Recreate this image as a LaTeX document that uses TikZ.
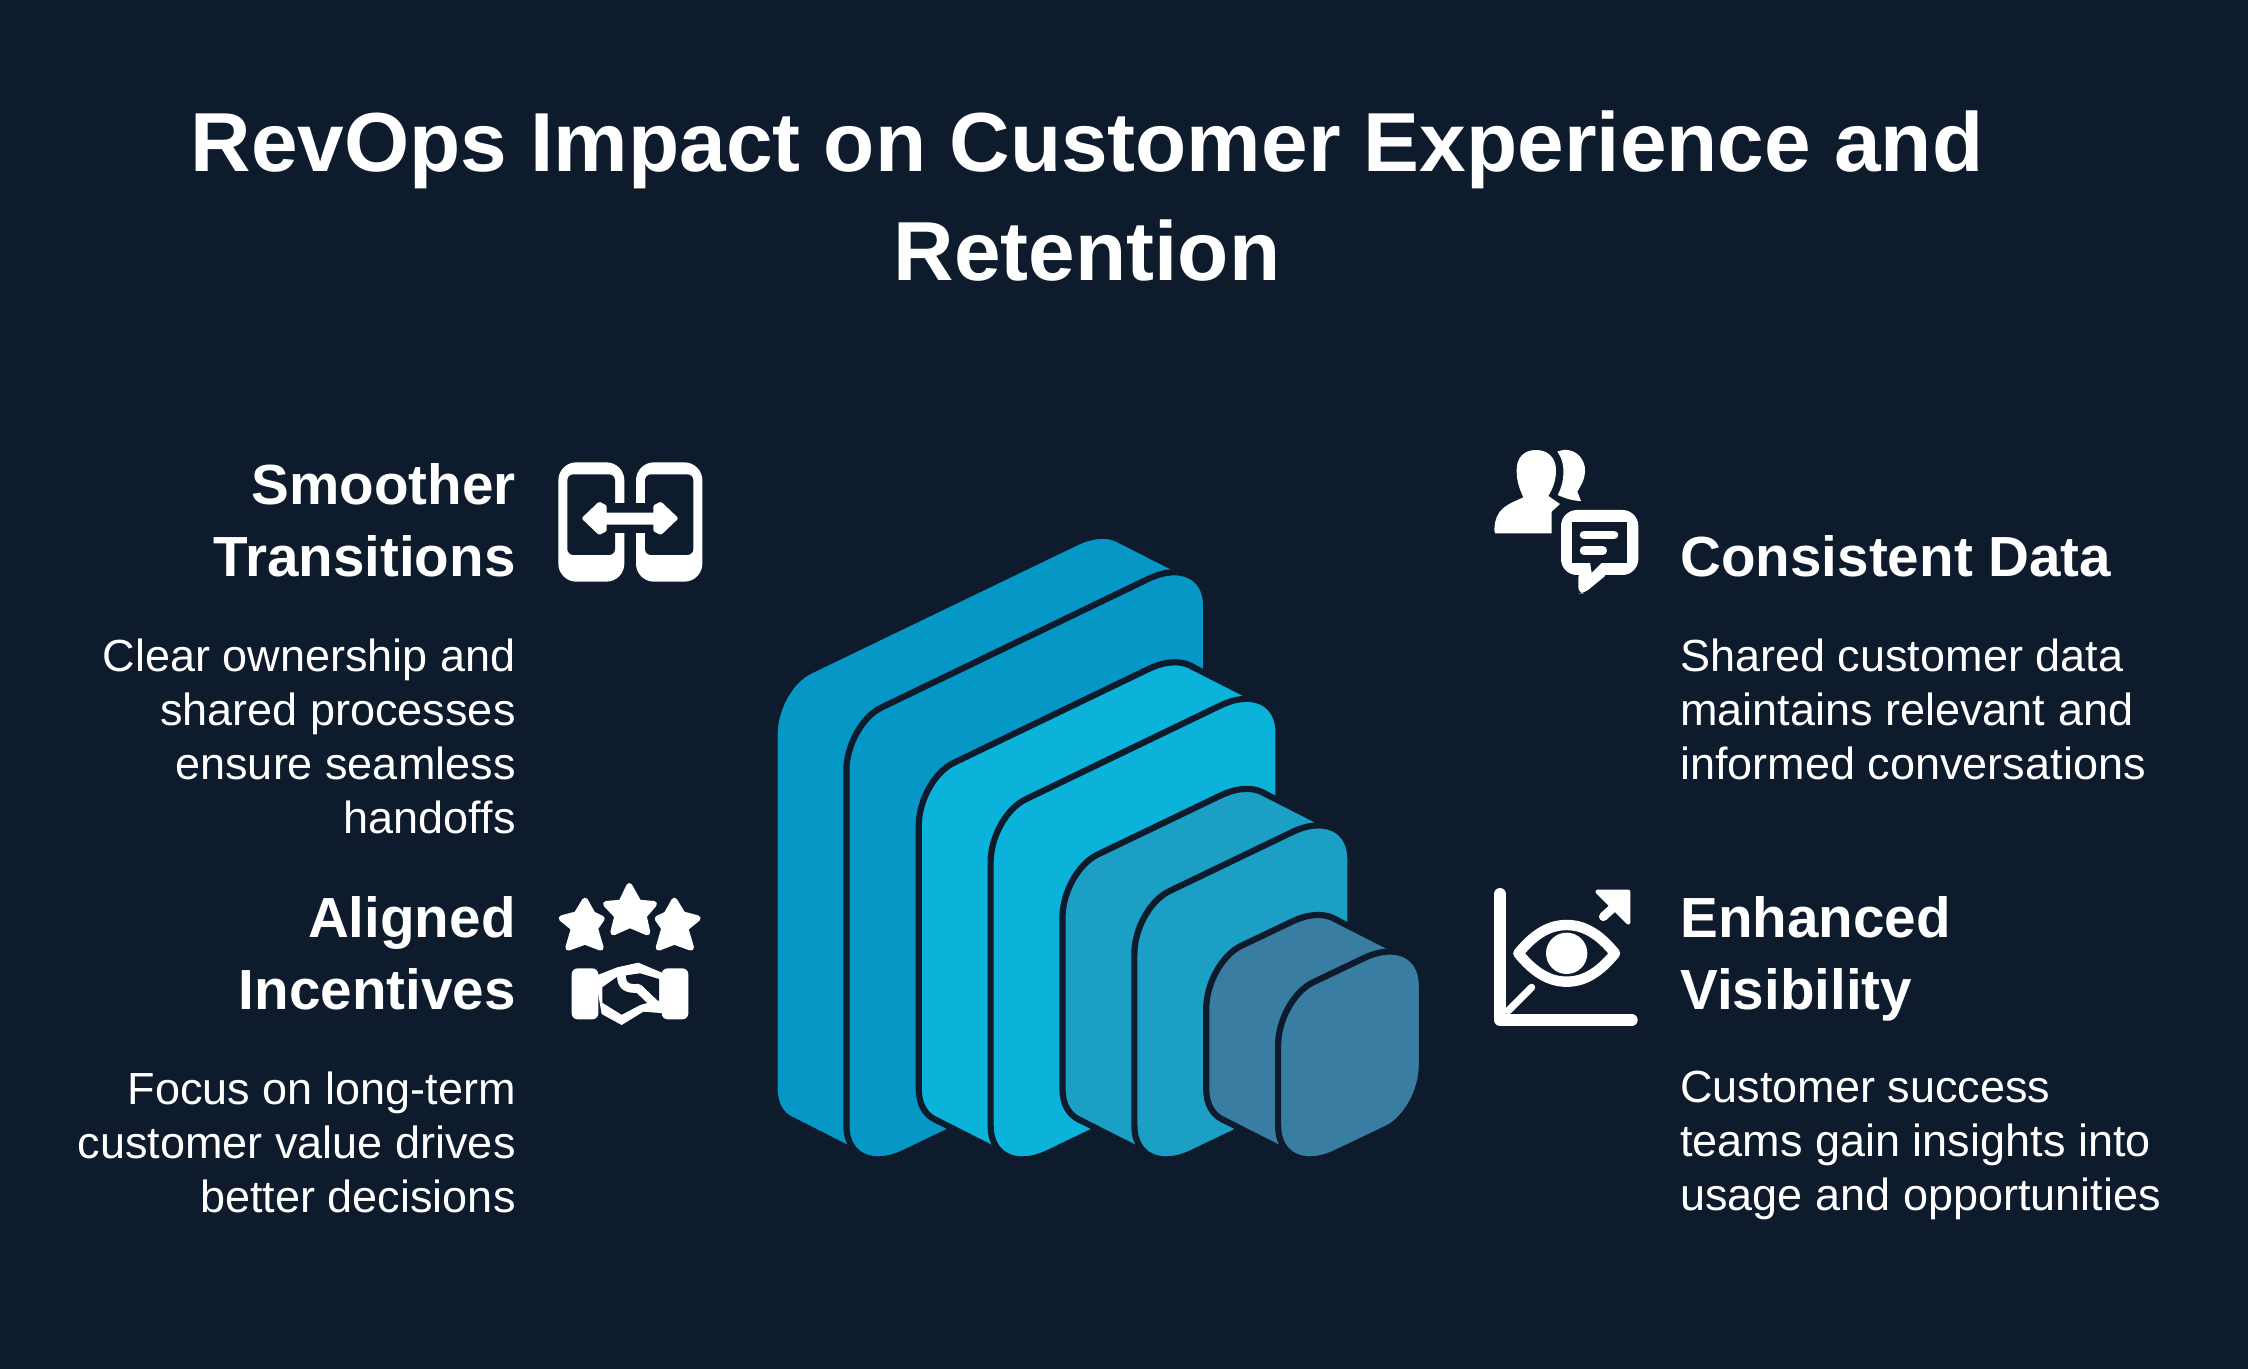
\documentclass[tikz,border=0pt]{standalone}
\usepackage{fontspec}
\setmainfont{Liberation Sans}
\usetikzlibrary{positioning}

\definecolor{pagebg}{HTML}{0E1B2C}
\definecolor{slabone}{HTML}{0598C6}
\definecolor{slabtwo}{HTML}{0BB3DA}
\definecolor{slabthree}{HTML}{1C9FC4}
\definecolor{slabfour}{HTML}{397DA3}

% one rounded face, sharp corners at (\slabL,\slabTL) (\slabR,\slabT) (\slabR,\slabBR) (\slabL,1593)
\newcommand{\slabface}{%
    (\slabL,\slabTL+110) .. controls (\slabL,\slabTL+49.5) and (\slabL+35,\slabTL-18.5) .. (\slabL+78,\slabTL-41)
    -- (\slabR-130,\slabT+68) .. controls (\slabR-58,\slabT+31) and (\slabR,\slabT+60) .. (\slabR,\slabT+133)
    -- (\slabR,\slabBR-110) .. controls (\slabR,\slabBR-49.5) and (\slabR-35,\slabBR+18.5) .. (\slabR-78,\slabBR+41)
    -- (\slabL+130,1525) .. controls (\slabL+58,1562) and (\slabL,1533) .. (\slabL,1460) -- cycle
}

\newcommand{\slabblock}[4]{%
    \def\slabL{#1}\def\slabR{#2}\def\slabT{#3}
    \pgfmathsetmacro\slabTL{#3+.52*(#2-#1)}
    \pgfmathsetmacro\slabBR{1593-.52*(#2-#1)}
    \draw[slabedge,fill=#4,shift={(-161,-88)}] \slabface;
    \fill[#4] (#2-196.9,#3-27.4) -- (#2-35.9,#3+60.6) -- (#1+35.9,1532.4) -- (#1-125.1,1444.4) -- cycle;
    \draw[slabedge] (#2-196.9,#3-27.4) -- (#2-35.9,#3+60.6);
    \draw[slabedge] (#1-125.1,1444.4) -- (#1+35.9,1532.4);
    \draw[slabedge,fill=#4] \slabface;
}

\begin{document}
\begin{tikzpicture}[
    x=.5pt,y=-.5pt,
    titletext/.style={text=white,align=center,font=\fontsize{41.9}{54.5}\selectfont\bfseries,inner sep=0pt},
    headleft/.style={text=white,align=right,font=\fontsize{28.3}{36}\selectfont\bfseries,inner sep=0pt},
    headright/.style={text=white,align=left,font=\fontsize{28.3}{36}\selectfont\bfseries,inner sep=0pt},
    bodyleft/.style={text=white,align=right,font=\fontsize{22.5}{27}\selectfont,inner sep=0pt},
    bodyright/.style={text=white,align=left,font=\fontsize{22.5}{27}\selectfont,inner sep=0pt},
    slabedge/.style={draw=pagebg,line width=3.1pt,line join=round},
    iconfill/.style={fill=white,draw=white,line join=round},
    iconline/.style={draw=white,line cap=round,line join=round}
    ]

    \fill[pagebg] (0,0) rectangle (2248,1369);
    \useasboundingbox (0,0) rectangle (2248,1369);

    \node[titletext,anchor=base] (title) at (1087,281) {RevOps Impact on Customer Experience and\\Retention};

    \node[headleft,anchor=base east] (smoother) at (516,576) {Smoother\\Transitions};
    \node[bodyleft,below=31pt of smoother.base east,anchor=north east] (smootherbody) {Clear ownership and\\shared processes\\ensure seamless\\handoffs};
    \node[headleft,anchor=base east] (aligned) at (516,1009) {Aligned\\Incentives};
    \node[bodyleft,below=31pt of aligned.base east,anchor=north east] (alignedbody) {Focus on long-term\\customer value drives\\better decisions};

    \node[headright,anchor=base west] (consistent) at (1680,576) {Consistent Data};
    \node[bodyright,below=31pt of consistent.base west,anchor=north west] (consistentbody) {Shared customer data\\maintains relevant and\\informed conversations};
    \node[headright,anchor=base west] (enhanced) at (1680,1009) {Enhanced\\Visibility};
    \node[bodyright,below=31pt of enhanced.base west,anchor=north west] (enhancedbody) {Customer success\\teams gain insights into\\usage and opportunities};

    \begin{scope}[shift={(750,520)},xscale=1/2.24,yscale=1/2.41]
        \slabblock{216}{1022}{74}{slabone}
        \slabblock{539}{1184}{379}{slabtwo}
        \slabblock{861}{1345}{684}{slabthree}
        \slabblock{1183}{1505}{988}{slabfour}
    \end{scope}

    % phones
    \begin{scope}[shift={(540,440)},scale=1/3]
        \fill[white,rounded corners=9pt] (55,67) rectangle (253,425);
        \fill[white,rounded corners=9pt] (288,67) rectangle (487,425);
        \fill[pagebg,rounded corners=3pt] (82,103) rectangle (225,345);
        \fill[pagebg,rounded corners=3pt] (315,103) rectangle (460,345);
        \fill[pagebg] (220,190) rectangle (320,280);
        \draw[iconfill,line width=2pt] (133,235) -- (178,192) -- (194,200) -- (194,224) -- (346,224) -- (346,200) -- (362,192) -- (407,235) -- (362,278) -- (346,270) -- (346,248) -- (194,248) -- (194,270) -- (178,278) -- cycle;
    \end{scope}

    % stars and handshake
    \begin{scope}[shift={(540,870)},scale=1/3]
        \draw[iconfill,line width=3pt] (135,92) -- (158,133) -- (185,146) -- (165,175) -- (182,233) -- (135,215) -- (85,233) -- (102,175) -- (65,145) -- (110,133) -- cycle;
        \draw[iconfill,line width=3pt] (268,48) -- (296,98) -- (342,102) -- (311,138) -- (322,187) -- (270,165) -- (220,187) -- (232,138) -- (198,102) -- (244,98) -- cycle;
        \draw[iconfill,line width=3pt] (403,92) -- (428,133) -- (473,145) -- (436,175) -- (453,233) -- (403,215) -- (356,233) -- (373,175) -- (353,146) -- (380,133) -- cycle;
        \fill[white,rounded corners=3pt] (95,295) rectangle (175,448);
        \fill[white,rounded corners=3pt] (365,295) rectangle (445,448);
        \fill[white] (165,318) -- (232,292) -- (295,278) -- (375,312) -- (375,430) -- (310,425) -- (245,465) -- (185,432) -- cycle;
        \fill[pagebg] (187,352) -- (232,320) -- (300,310) -- (357,327) -- (357,392) -- (345,392) -- (300,405) -- (245,434) -- (187,398) -- cycle;
        \draw[iconline,line width=4.4pt] (244,316) .. controls (245,350) and (262,357) .. (295,355) -- (342,400);
    \end{scope}

    % people and chat bubble
    \begin{scope}[shift={(1480,440)},scale=1/3]
        \fill[white] (45,280) -- (215,280) -- (215,215) -- (240,192) -- (205,168) .. controls (222,140) and (228,115) .. (228,90) .. controls (228,55) and (205,30) .. (168,30) .. controls (130,30) and (108,55) .. (110,95) .. controls (110,125) and (120,150) .. (130,172) .. controls (80,195) and (45,205) .. (43,270) -- cycle;
        \fill[white] (232,35) .. controls (280,15) and (318,55) .. (315,95) .. controls (313,125) and (300,140) .. (292,155) -- (303,183) .. controls (280,183) and (255,175) .. (233,165) .. controls (250,135) and (262,75) .. (232,35) -- cycle;
        \fill[white,rounded corners=8pt] (243,210) rectangle (475,405);
        \fill[white,rounded corners=3pt] (295,395) -- (295,460) -- (312,460) -- (385,400) -- cycle;
        \fill[pagebg] (277,245) rectangle (440,370);
        \fill[pagebg] (330,365) -- (335,398) -- (368,365) -- cycle;
        \draw[iconline,line width=4.3pt] (312,285) -- (402,285);
        \draw[iconline,line width=4.3pt] (312,332) -- (368,332);
    \end{scope}

    % eye on a chart
    \begin{scope}[shift={(1480,870)},scale=1/3]
        \draw[iconline,line width=6pt] (60,72) -- (60,450) -- (455,450);
        \draw[iconline,line width=3.6pt] (155,352) -- (85,422);
        \draw[iconline,line width=5.2pt] (115,250) .. controls (160,195) and (205,165) .. (260,165) .. controls (315,165) and (360,195) .. (405,250) .. controls (360,305) and (315,335) .. (260,335) .. controls (205,335) and (160,305) .. (115,250) -- cycle;
        \fill[white] (260,250) circle (62);
        \draw[iconfill,line width=2pt] (352,65) -- (445,65) -- (445,158) -- cycle;
        \draw[iconline,line width=4.4pt] (405,108) -- (370,140);
    \end{scope}

\end{tikzpicture}
\end{document}
